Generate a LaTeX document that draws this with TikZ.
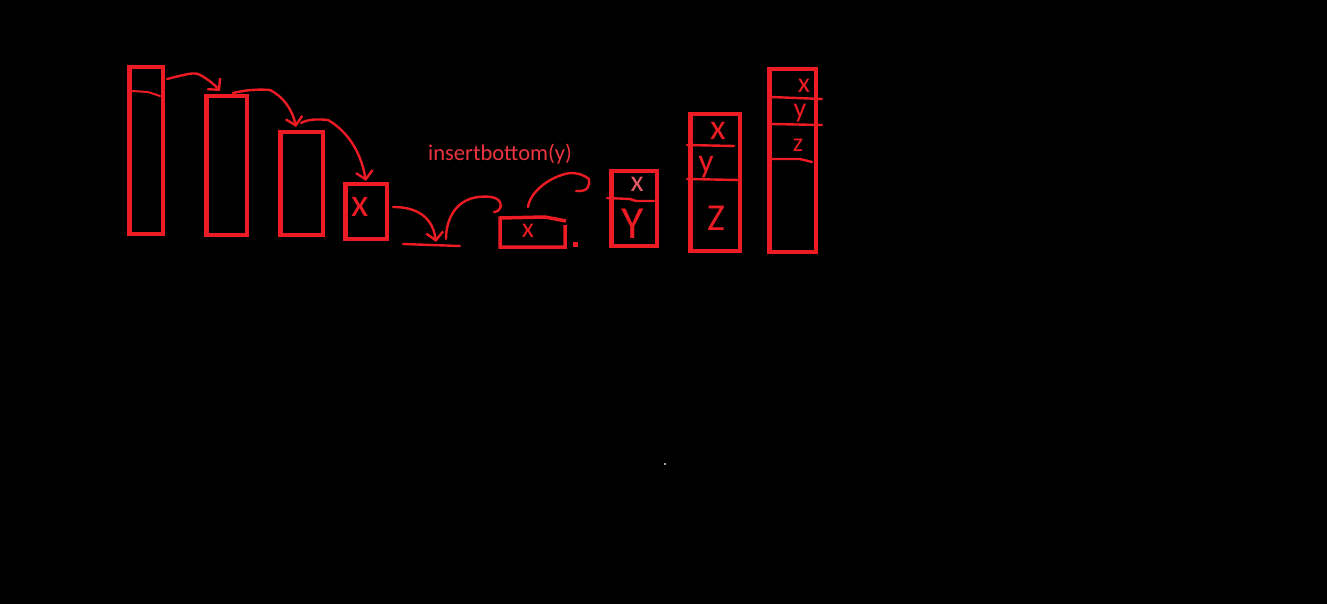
\documentclass[tikz,border=0pt]{standalone}
\usepackage{fontspec}
\setmainfont{Carlito}
\usetikzlibrary{arrows.meta}
\definecolor{pr}{RGB}{237,28,36}
\definecolor{pt}{RGB}{238,52,62}
\definecolor{pl}{RGB}{228,90,100}
\tikzset{
  box/.style={draw=pr, line width=4.5pt, inner sep=0pt, outer sep=0pt},
  pen/.style={draw=pr, line width=2.4pt, line cap=round, line join=round},
  arr/.style={pen, -{Straight Barb[length=8pt,width=17pt,line width=2.4pt]}},
  letter/.style={text=pr, inner sep=0pt},
}
\begin{document}
\begin{tikzpicture}[x=1pt,y=-1pt]
\fill[black] (0,0) rectangle (1327,604);
\useasboundingbox (0,0) rectangle (1327,604);

% boxes
\node[box, minimum width=33.5pt, minimum height=166.5pt] (r1) at (146,150.5) {};
\node[box, minimum width=40.5pt, minimum height=138.5pt] (r2) at (226.5,165.5) {};
\node[box, minimum width=42.5pt, minimum height=102.5pt] (r3) at (301.5,183.5) {};
\node[box, minimum width=41.5pt, minimum height=54.5pt] (r4) at (366,211.5) {};
\node[box, minimum width=45.5pt, minimum height=74.5pt] (r6) at (634,208.5) {};
\node[box, minimum width=49.5pt, minimum height=136.5pt] (r7) at (715,182.5) {};
\node[box, minimum width=46.5pt, minimum height=182.5pt] (r8) at (792.5,160.5) {};

% inner line of first box
\draw[pen, line width=2pt] (131,91) -- (148,92) -- (160,96);

% curved arrows between boxes
\coordinate (a1s) at (167,79);
\coordinate (a1e) at (220,91);
\draw[arr] (a1s) .. controls (180,76) and (192,72) .. (198,74) .. controls (205,77) and (214,84) .. (a1e);
\coordinate (a2s) at (233,93);
\coordinate (a2e) at (296,127);
\draw[arr] (a2s) .. controls (245,90) and (258,89) .. (270,90) .. controls (282,96) and (292,108) .. (a2e);
\coordinate (a3s) at (301,123);
\coordinate (a3e) at (366,181);
\draw[arr] (a3s) .. controls (308,119) and (318,119) .. (328,120) .. controls (345,130) and (360,148) .. (a3e);
\coordinate (a4s) at (393,207);
\coordinate (a4e) at (436,242);
\draw[arr] (a4s) .. controls (410,207) and (432,212) .. (a4e);

% ground line
\draw[pen] (403,244) -- (460,246);

% hook arrows
\coordinate (a5s) at (446,239);
\draw[pen] (a5s) .. controls (446,220) and (455,200) .. (478,197) .. controls (488,196) and (494,197) .. (497,199)
  .. controls (503,203) and (502,211) .. (494,212);
\coordinate (a6s) at (528,207);
\draw[pen] (a6s) .. controls (530,192) and (550,176) .. (570,173) .. controls (580,173) and (585,176) .. (589,179)
  .. controls (590,186) and (588,192) .. (576,191);

% flat box
\draw[draw=pr, line width=3.5pt, line join=miter] (565,225) -- (565,247) -- (500,247) -- (500,218) -- (545,217) -- (566,221);
\fill[pr] (572.5,241.5) rectangle (577.5,246.5);

% dividers
\draw[pen] (607,198) -- (630,199) -- (636,201) -- (654,201);
\draw[pen] (687,145) -- (734,146);
\draw[pen] (687,179) -- (738,180);
\draw[pen] (771,97) -- (822,99);
\draw[pen] (771,124) -- (822,125);
\draw[pen] (771,159) -- (800,159) -- (812,162);

% letters
\node[letter, font=\fontsize{40}{40}\selectfont] (lx4) at (360,207) {x};
\node[letter, font=\fontsize{28}{28}\selectfont] (lx5) at (528,231) {x};
\node[letter, text=pl, font=\fontsize{30}{30}\selectfont] (lx6) at (637,184) {x};
\node[letter, font=\fontsize{46}{46}\selectfont] (ly6) at (633,224) {Y};
\node[letter, font=\fontsize{36}{36}\selectfont] (lx7) at (718,131) {x};
\node[letter, font=\fontsize{34}{34}\selectfont] (ly7) at (706,167) {y};
\node[letter, font=\fontsize{38}{38}\selectfont] (lz7) at (716,218) {Z};
\node[letter, font=\fontsize{28}{28}\selectfont] (lx8) at (804,86) {x};
\node[letter, font=\fontsize{28}{28}\selectfont] (ly8) at (800,113) {y};
\node[letter, font=\fontsize{26}{26}\selectfont] (lz8) at (798,145) {z};

% label
\node[text=pt, font=\fontsize{22.5}{22.5}\selectfont, anchor=base west, inner sep=0pt] (lab) at (428,161) {insertbottom(y)};

% stray dot
\fill[gray!70] (664,463) rectangle (666,465);
\end{tikzpicture}
\end{document}
